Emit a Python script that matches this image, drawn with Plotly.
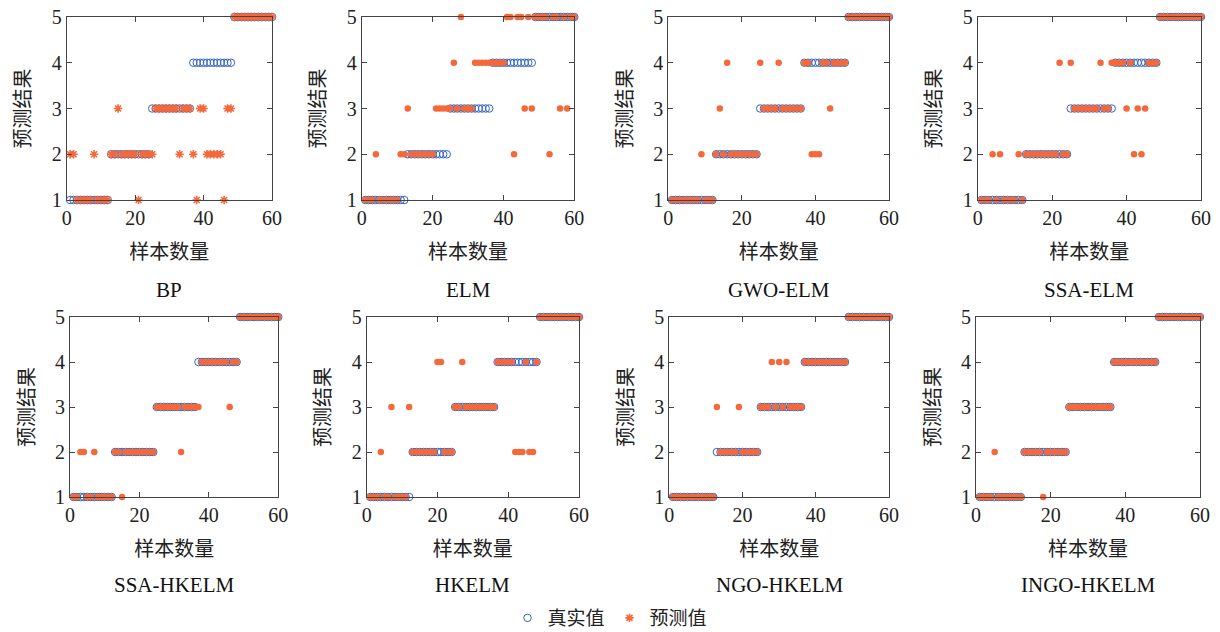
import plotly.graph_objects as go

samples = list(range(1, 61))
true_vals = [1]*12 + [2]*12 + [3]*12 + [4]*12 + [5]*12

model_names = ["BP", "ELM", "GWO-ELM", "SSA-ELM", "SSA-HKELM", "HKELM", "NGO-HKELM", "INGO-HKELM"]

pred_bp = [2,2,1,1,1,1,1,2,1,1,1,1,
           2,2,3,2,2,2,2,2,1,2,2,2,
           2,3,3,3,3,3,3,3,2,3,3,3,
           2,1,3,3,2,2,2,2,2,1,3,3,
           5,5,5,5,5,5,5,5,5,5,5,5]
pred_elm = [1,1,1,2,1,1,1,1,1,1,2,2,
            3,2,2,2,2,2,2,2,3,3,3,3,
            3,4,3,5,3,3,3,4,4,4,4,4,
            4,4,4,4,5,5,2,5,5,3,5,3,
            5,5,5,5,2,5,5,3,5,3,5,5]
pred_gwo_elm = [1,1,1,1,1,1,1,1,2,1,1,1,
                2,3,2,4,2,2,2,2,2,2,2,2,
                4,3,3,3,3,4,3,3,3,3,3,3,
                4,4,2,2,2,4,4,3,4,4,4,4,
                5,5,5,5,5,5,5,5,5,5,5,5]
pred_ssa_elm = [1,1,1,2,1,2,1,1,1,1,2,1,
                2,2,2,2,2,2,2,2,2,4,2,2,
                4,3,3,3,3,3,3,3,4,3,3,4,
                4,4,4,3,4,2,3,2,3,4,4,4,
                5,5,5,5,5,5,5,5,5,5,5,5]
pred_ssa_hkelm = [1,1,2,2,1,1,2,1,1,1,1,1,
                  2,2,1,2,2,2,2,2,2,2,2,2,
                  3,3,3,3,3,3,3,2,3,3,3,3,
                  3,4,4,4,4,4,4,4,4,3,4,4,
                  5,5,5,5,5,5,5,5,5,5,5,5]
pred_hkelm = [1,1,1,2,1,1,3,1,1,1,1,3,
              2,2,2,2,2,2,2,4,4,2,2,2,
              3,3,4,3,3,3,3,3,3,3,3,3,
              4,4,4,4,4,2,2,2,4,2,2,4,
              5,5,5,5,5,5,5,5,5,5,5,5]
pred_ngo_hkelm = [1,1,1,1,1,1,1,1,1,1,1,1,
                  3,2,2,2,2,2,3,2,2,2,2,2,
                  3,3,3,4,3,4,3,4,3,3,3,3,
                  4,4,4,4,4,4,4,4,4,4,4,4,
                  5,5,5,5,5,5,5,5,5,5,5,5]
pred_ingo_hkelm = [1,1,1,1,2,1,1,1,1,1,1,1,
                   2,2,2,2,2,1,2,2,2,2,2,2,
                   3,3,3,3,3,3,3,3,3,3,3,3,
                   4,4,4,4,4,4,4,4,4,4,4,4,
                   5,5,5,5,5,5,5,5,5,5,5,5]
predictions = [pred_bp, pred_elm, pred_gwo_elm, pred_ssa_elm,
               pred_ssa_hkelm, pred_hkelm, pred_ngo_hkelm, pred_ingo_hkelm]

x_ticks = [0, 20, 40, 60]
y_ticks = [1, 2, 3, 4, 5]
legend_true = "真实值"
legend_pred = "预测值"
x_title = "样本数量"
y_title = "预测结果"

W, H = 1220, 632
BLUE = "#3565c0"
ORANGE = "#f4683a"
SERIF = "Liberation Serif, Times New Roman, serif"
CJK = "Noto Sans CJK SC, sans-serif"

# panel pixel boxes (left, right, top, bottom)
boxes = [
    (66.7, 272.0, 17, 200), (361.7, 574.3, 17, 200), (668.3, 889.0, 17, 200), (977.7, 1201.0, 17, 200),
    (70.0, 278.3, 317, 497), (366.7, 579.0, 317, 497), (669.3, 889.0, 317, 497), (976.0, 1200.0, 317, 497),
]

fig = go.Figure()
annotations = []
for i, (name, pred) in enumerate(zip(model_names, predictions)):
    l, r, t, b = boxes[i]
    xa = "x" if i == 0 else f"x{i+1}"
    ya = "y" if i == 0 else f"y{i+1}"
    fig.add_trace(go.Scatter(
        x=samples, y=true_vals, mode="markers", name=legend_true,
        xaxis=xa, yaxis=ya, cliponaxis=False, showlegend=(i == 0),
        marker=dict(symbol="circle-open", size=7.5, color=BLUE, line=dict(width=1, color=BLUE)),
    ))
    if i == 0:
        pmarker = dict(symbol="asterisk", size=7, color=ORANGE, line=dict(width=1.6, color=ORANGE))
    else:
        pmarker = dict(symbol="circle", size=6.5, color=ORANGE, line=dict(width=0))
    fig.add_trace(go.Scatter(
        x=samples, y=pred, mode="markers", name=legend_pred,
        xaxis=xa, yaxis=ya, cliponaxis=False, showlegend=(i == 0),
        marker=pmarker,
    ))
    axis_common = dict(
        showline=True, linecolor="#444", linewidth=1, mirror="ticks",
        ticks="inside", ticklen=5, tickcolor="#444", showgrid=False, zeroline=False,
        tickfont=dict(family=SERIF, size=20, color="#222"), automargin=False,
    )
    xkey = "xaxis" if i == 0 else f"xaxis{i+1}"
    ykey = "yaxis" if i == 0 else f"yaxis{i+1}"
    fig.layout[xkey] = dict(
        axis_common, domain=[l / W, r / W], anchor=ya, range=[0, 60],
        tickvals=x_ticks, ticktext=[str(v) for v in x_ticks],
        title=dict(text=x_title, font=dict(family=CJK, size=20, color="#222"), standoff=16),
    )
    fig.layout[ykey] = dict(
        axis_common, domain=[1 - b / H, 1 - t / H], anchor=xa, range=[1, 5],
        tickvals=y_ticks, ticktext=[str(v) for v in y_ticks],
        title=dict(text=y_title, font=dict(family=CJK, size=20, color="#222"), standoff=15),
    )
    name_y = 290 if i < 4 else 585
    annotations.append(dict(
        text=name, x=(l + r) / 2 / W, y=1 - name_y / H, xref="paper", yref="paper",
        showarrow=False, xanchor="center", yanchor="middle",
        font=dict(family=SERIF, size=21, color="#111"),
    ))

fig.update_layout(
    width=W, height=H, margin=dict(l=0, r=0, t=0, b=0, autoexpand=False),
    paper_bgcolor="white", plot_bgcolor="white",
    annotations=annotations,
    legend=dict(orientation="h", x=0.5, xanchor="center", y=1 - 618 / H, yanchor="middle",
                font=dict(family=CJK, size=19, color="#222"), itemwidth=30,
                bgcolor="rgba(0,0,0,0)"),
)
fig.write_html("out.html", config={"displayModeBar": False},
               post_script="document.body.style.margin='0px';document.body.style.overflow='hidden';")
